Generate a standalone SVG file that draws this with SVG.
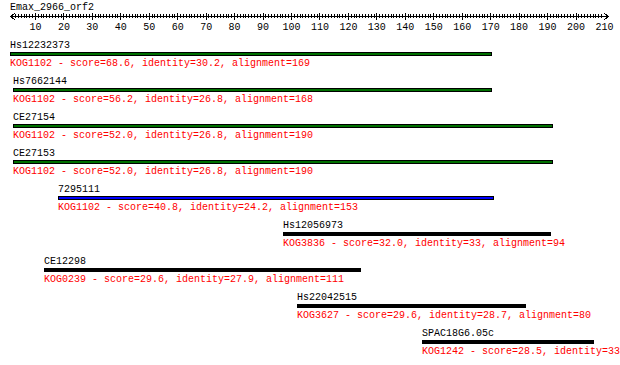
<svg xmlns="http://www.w3.org/2000/svg" xmlns:xlink="http://www.w3.org/1999/xlink" width="620" height="365" viewBox="0 0 620 365">
<style>
text{font-family:"Liberation Mono","DejaVu Sans Mono",monospace;font-size:10px}
.nm{fill:#000}
.kg{fill:#ff0000}
.ax{stroke:#000;stroke-width:1;fill:none;shape-rendering:crispEdges}
.bar{stroke:#000;stroke-width:1;shape-rendering:crispEdges}
.g{fill:#007000}
.b{fill:#0000ff}
.k{fill:#000}
.lbl{text-anchor:middle}
</style>
<defs>
<path id="dec" class="ax" d="M0,13V20M2.845,14V18M5.69,14V18M8.535,14V18M11.38,14V18M14.225,14V18M17.07,14V18M19.915,14V18M22.76,14V18M25.605,14V18"/>
</defs>
<rect width="620" height="365" fill="#fff"/>
<g id="axis">
<text x="10" y="10" class="nm">Emax_2966_orf2</text>
<path class="ax" d="M10,16.5H609M10,16.5L15,13.5M10,16.5L15,19.5M609,16.5L604,13.5M609,16.5L604,19.5"/>
<path class="ax" d="M12.69,14V18M15.535,14V18M18.38,14V18M21.225,14V18M24.07,14V18M26.915,14V18M29.76,14V18M32.605,14V18"/>
<use xlink:href="#dec" x="35.45"/><use xlink:href="#dec" x="63.9"/><use xlink:href="#dec" x="92.35"/><use xlink:href="#dec" x="120.8"/><use xlink:href="#dec" x="149.25"/><use xlink:href="#dec" x="177.7"/><use xlink:href="#dec" x="206.15"/><use xlink:href="#dec" x="234.6"/><use xlink:href="#dec" x="263.05"/><use xlink:href="#dec" x="291.5"/><use xlink:href="#dec" x="319.95"/><use xlink:href="#dec" x="348.4"/><use xlink:href="#dec" x="376.85"/><use xlink:href="#dec" x="405.3"/><use xlink:href="#dec" x="433.75"/><use xlink:href="#dec" x="462.2"/><use xlink:href="#dec" x="490.65"/><use xlink:href="#dec" x="519.1"/><use xlink:href="#dec" x="547.55"/><use xlink:href="#dec" x="576"/>
<text class="nm lbl" y="30"><tspan x="35.45">10</tspan><tspan x="63.9">20</tspan><tspan x="92.35">30</tspan><tspan x="120.8">40</tspan><tspan x="149.25">50</tspan><tspan x="177.7">60</tspan><tspan x="206.15">70</tspan><tspan x="234.6">80</tspan><tspan x="263.05">90</tspan><tspan x="291.5">100</tspan><tspan x="319.95">110</tspan><tspan x="348.4">120</tspan><tspan x="376.85">130</tspan><tspan x="405.3">140</tspan><tspan x="433.75">150</tspan><tspan x="462.2">160</tspan><tspan x="490.65">170</tspan><tspan x="519.1">180</tspan><tspan x="547.55">190</tspan><tspan x="576">200</tspan><tspan x="604.45">210</tspan></text>
</g>
<g id="connectors"/>
<g id="hit1">
<text x="10" y="48" class="nm">Hs12232373</text>
<rect class="bar g" x="10.5" y="52.5" width="481" height="3"/>
<text x="10" y="66" class="kg">KOG1102 - score=68.6, identity=30.2, alignment=169</text>
</g>
<g id="hit2">
<text x="13" y="84" class="nm">Hs7662144</text>
<rect class="bar g" x="13.5" y="88.5" width="478" height="3"/>
<text x="13" y="102" class="kg">KOG1102 - score=56.2, identity=26.8, alignment=168</text>
</g>
<g id="hit3">
<text x="13" y="120" class="nm">CE27154</text>
<rect class="bar g" x="13.5" y="124.5" width="539" height="3"/>
<text x="13" y="138" class="kg">KOG1102 - score=52.0, identity=26.8, alignment=190</text>
</g>
<g id="hit4">
<text x="13" y="156" class="nm">CE27153</text>
<rect class="bar g" x="13.5" y="160.5" width="539" height="3"/>
<text x="13" y="174" class="kg">KOG1102 - score=52.0, identity=26.8, alignment=190</text>
</g>
<g id="hit5">
<text x="58" y="192" class="nm">7295111</text>
<rect class="bar b" x="58.5" y="196.5" width="435" height="3"/>
<text x="58" y="210" class="kg">KOG1102 - score=40.8, identity=24.2, alignment=153</text>
</g>
<g id="hit6">
<text x="283" y="228" class="nm">Hs12056973</text>
<rect class="bar k" x="283.5" y="232.5" width="267" height="3"/>
<text x="283" y="246" class="kg">KOG3836 - score=32.0, identity=33, alignment=94</text>
</g>
<g id="hit7">
<text x="44" y="264" class="nm">CE12298</text>
<rect class="bar k" x="44.5" y="268.5" width="316" height="3"/>
<text x="44" y="282" class="kg">KOG0239 - score=29.6, identity=27.9, alignment=111</text>
</g>
<g id="hit8">
<text x="297" y="300" class="nm">Hs22042515</text>
<rect class="bar k" x="297.5" y="304.5" width="228" height="3"/>
<text x="297" y="318" class="kg">KOG3627 - score=29.6, identity=28.7, alignment=80</text>
</g>
<g id="hit9">
<text x="422" y="336" class="nm">SPAC18G6.05c</text>
<rect class="bar k" x="422.5" y="340.5" width="171" height="3"/>
<text x="422" y="354" class="kg">KOG1242 - score=28.5, identity=33</text>
</g>
</svg>
